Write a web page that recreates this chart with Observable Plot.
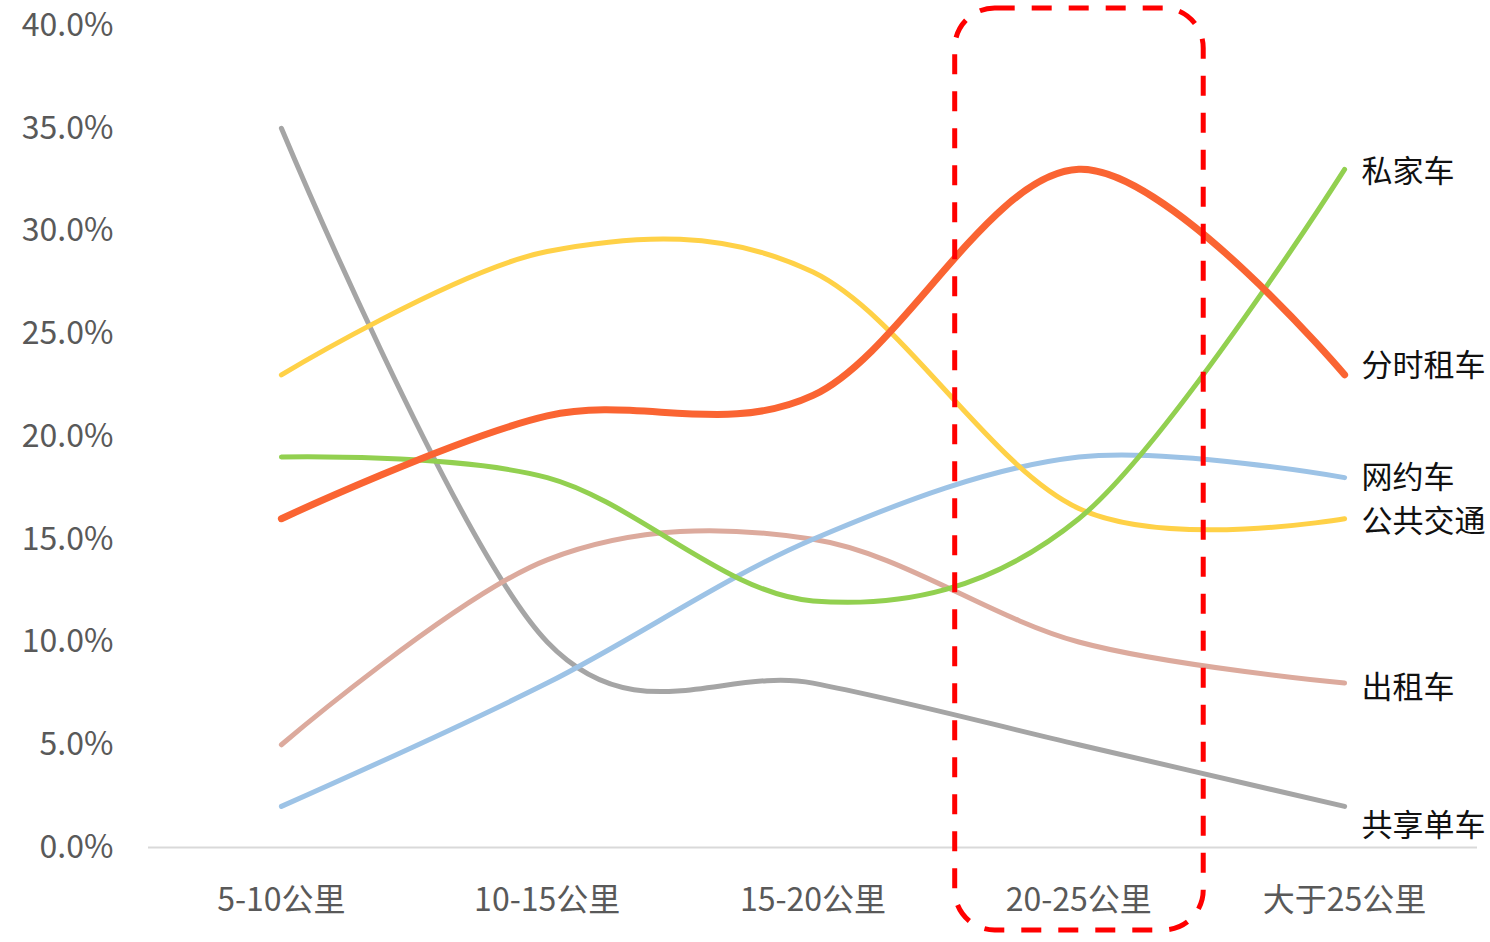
<!DOCTYPE html>
<html>
<head>
<meta charset="utf-8">
<script src="https://cdn.jsdelivr.net/npm/d3@7"></script>
<script src="https://cdn.jsdelivr.net/npm/@observablehq/plot@0.6"></script>
<style>
  html, body { margin: 0; padding: 0; background: #fff; }
  #wrap { position: relative; width: 1490px; height: 942px; overflow: hidden; }
  #edge { position: absolute; left: 4px; top: 0; width: 2px; height: 942px; background: #d9d9d9; }
  #chart { position: absolute; left: 0; top: 0; }
</style>
</head>
<body>
<div id="wrap"><div id="edge"></div><div id="chart"></div></div>
<script>
// ---- data ----
const categories = ["5-10公里", "10-15公里", "15-20公里", "20-25公里", "大于25公里"];
const seriesNames = ["共享单车", "出租车", "网约车", "公共交通", "私家车", "分时租车"];
const sharedBike    = [35, 10, 8, 5, 2];
const taxi          = [5, 14, 15, 10, 8];
const rideHailing   = [2, 8, 15, 19, 18];
const publicTransit = [23, 29, 28, 16.5, 16];
const privateCar    = [19, 18, 12, 16, 33];
const carSharing    = [16, 21, 22, 33, 23];
const yTicks = [0, 5, 10, 15, 20, 25, 30, 35, 40];
const highlightCategory = "20-25公里";

// ---- styles ----
const seriesValues = [sharedBike, taxi, rideHailing, publicTransit, privateCar, carSharing];
const seriesColors = ["#a5a5a5", "#dcaa9d", "#9dc3e6", "#ffd147", "#92d050", "#fa6432"];
const seriesWidths = [5, 5, 5, 5, 5, 7];
const labelNudge = [19, 5, 0, 3, 2, -9];

const rows = [];
seriesNames.forEach((s, k) => {
  seriesValues[k].forEach((v, i) => rows.push({series: s, i, value: v, k}));
});
const lastRows = rows.filter(d => d.i === categories.length - 1);
const hi = categories.indexOf(highlightCategory);

const font = "'Noto Sans CJK SC', 'Noto Sans', sans-serif";

const marks = [
  Plot.ruleY([0], {stroke: "#d9d9d9", strokeWidth: 2}),
  Plot.axisY(yTicks, {
    tickSize: 0, tickPadding: 35, fontSize: 32, fill: "#595959",
    tickFormat: d => d.toFixed(1) + "%", label: null
  }),
  Plot.axisX(d3.range(categories.length), {
    tickSize: 0, tickPadding: 41, fontSize: 32, fill: "#595959",
    tickFormat: i => categories[i], label: null
  })
];
seriesNames.forEach((s, k) => {
  marks.push(Plot.line(rows.filter(d => d.k === k), {
    x: "i", y: "value", curve: "cardinal",
    stroke: seriesColors[k], strokeWidth: seriesWidths[k],
    strokeLinecap: "round", strokeLinejoin: "round"
  }));
});
marks.push(Plot.text(lastRows, {
  x: "i", y: "value", text: "series",
  dx: 17, textAnchor: "start",
  fontSize: 31, fill: "#111"
}));
marks.push(Plot.rect([{}], {
  x1: hi - 0.465, x2: hi + 0.47, y1: -4.04, y2: 40.83,
  fill: "none", stroke: "#ff0000", strokeWidth: 5,
  strokeDasharray: "20 17", rx: 40
}));

const chart = Plot.plot({
  width: 1490,
  height: 942,
  marginLeft: 148,
  marginRight: 13,
  marginTop: 25,
  marginBottom: 95,
  style: {fontFamily: font, background: "white", overflow: "visible", color: "#595959"},
  x: {type: "linear", domain: [-0.5, categories.length - 0.5]},
  y: {domain: [0, 40]},
  marks
});
// apply per-label vertical nudges
const textGroups = chart.querySelectorAll("g[aria-label='text']");
const labelGroup = textGroups[textGroups.length - 1];
labelGroup.querySelectorAll("text").forEach((t, j) => {
  const k = lastRows[j].k;
  const base = parseFloat(t.getAttribute("y"));
  if (!isNaN(base)) { t.setAttribute("y", base + labelNudge[k]); t.setAttribute("dy", "0.32em"); }
});
document.getElementById("chart").appendChild(chart);
</script>
</body>
</html>
